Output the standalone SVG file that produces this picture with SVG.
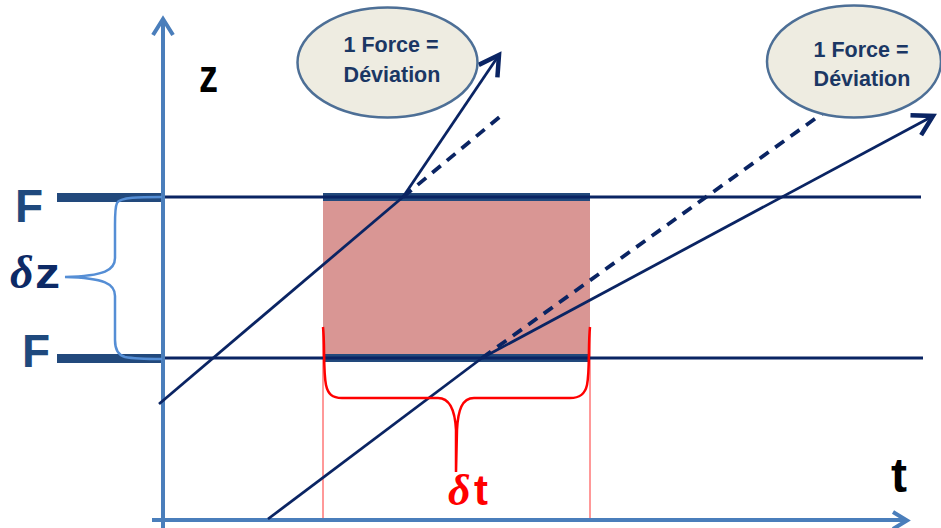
<svg xmlns="http://www.w3.org/2000/svg" width="941" height="528" viewBox="0 0 941 528">
<style>
.axis{stroke:#4a7ebb;stroke-width:4;fill:none}
.ln{stroke:#0a2463;stroke-width:2.8;fill:none}
.dash{stroke:#0a2463;stroke-width:3.8;fill:none;stroke-dasharray:11 8}
.bar{fill:#22497c}
.ell{fill:#eeece1;stroke:#4d6f96;stroke-width:2.5}
.etxt{font-family:"Liberation Sans",Arial,sans-serif;font-weight:bold;font-size:21.5px;fill:#1b3764;text-anchor:middle}
.big{font-family:"Liberation Sans",Arial,sans-serif;font-weight:bold}
.greek{font-family:"Liberation Serif","DejaVu Serif",serif;font-style:italic;font-weight:bold}
.brace{fill:none;stroke:#558ed5;stroke-width:2.5}
.rbrace{fill:none;stroke:#ff0000;stroke-width:2.5}
.rline{stroke:#ff3333;stroke-width:1}
</style>
<defs>
<marker id="ah" markerUnits="userSpaceOnUse" markerWidth="30" markerHeight="30" refX="0" refY="0" viewBox="-16 -10 20 20" orient="auto">
<path d="M-13,-7.5 L0,0 L-13,7.5" fill="none" stroke="#0a2463" stroke-width="3"/>
</marker>
</defs>
<g id="region">
<rect x="323" y="193" width="267" height="167" fill="#d99694"/>
<rect class="bar" x="323" y="193" width="267" height="8"/>
<rect class="bar" x="323" y="354" width="267" height="8"/>
<line class="rline" x1="323" y1="327" x2="323" y2="520"/>
<line class="rline" x1="590" y1="327" x2="590" y2="520"/>
</g>
<g id="levels">
<line class="ln" x1="162" y1="197" x2="921" y2="197"/>
<line class="ln" x1="162" y1="358" x2="923" y2="358"/>
<rect class="bar" x="57" y="193" width="105" height="9"/>
<rect class="bar" x="57" y="354" width="105" height="9"/>
</g>
<g id="axes">
<line class="axis" x1="163" y1="20" x2="163" y2="528"/>
<path class="axis" d="M153,35 L163,19 L173,35"/>
<line class="axis" x1="152" y1="520" x2="906" y2="520"/>
<path class="axis" d="M893,512 L907,520.5 L893,529"/>
</g>
<g id="connectors">
<line class="ln" x1="159" y1="404" x2="403" y2="197"/>
<line class="ln" x1="403" y1="197" x2="499" y2="55" marker-end="url(#ah)"/>
<line class="dash" x1="403" y1="197" x2="502" y2="115"/>
<line class="ln" x1="268" y1="519" x2="482" y2="358"/>
<line class="ln" x1="482" y1="358" x2="933" y2="116" marker-end="url(#ah)"/>
<line class="dash" x1="482" y1="358" x2="823" y2="113"/>
</g>
<g id="ellipse1">
<ellipse class="ell" cx="387.5" cy="62.5" rx="90" ry="55"/>
<text class="etxt" x="391" y="52">1 Force =</text>
<text class="etxt" x="392" y="82">Déviation</text>
</g>
<g id="ellipse2">
<ellipse class="ell" cx="854" cy="61.5" rx="87" ry="56"/>
<text class="etxt" x="861" y="57">1 Force =</text>
<text class="etxt" x="862" y="86">Déviation</text>
</g>
<g id="dz-brace">
<path class="brace" d="M162,197 C140,197 120,197 117,203 C115,207 115,215 115,225 L115,258 C115,270 105,276 65,277 C105,278 115,284 115,296 L115,340 C115,350 118,355 125,357 C135,359 150,359 162,359"/>
</g>
<g id="dt-brace">
<path class="rbrace" d="M323,327 C325,345 323,370 326,385 C328,394 332,398 342,398 L438,398 C450,398 455,410 456,430 L456,472 M456,472 L457,430 C458,410 462,398 474,398 L570,398 C580,398 585,394 587,385 C590,370 588,345 590,327"/>
</g>
<g id="labels">
<text class="big" x="15" y="222" font-size="46" fill="#1f497d">F</text>
<text class="big" x="22" y="367" font-size="46" fill="#1f497d">F</text>
<text class="greek" x="10" y="288" font-size="46" fill="#0d2a66">δ</text>
<text class="big" x="35" y="288" font-size="42" fill="#0d2a66" textLength="25" lengthAdjust="spacingAndGlyphs">z</text>
<text class="big" x="199" y="92" font-size="46" fill="#000" textLength="19" lengthAdjust="spacingAndGlyphs">z</text>
<text class="big" x="891" y="492" font-size="48" fill="#000">t</text>
<text class="greek" x="448" y="505" font-size="44" fill="#ff0000">δ</text>
<text class="big" x="474" y="505" font-size="42" fill="#ff0000">t</text>
</g>
</svg>
